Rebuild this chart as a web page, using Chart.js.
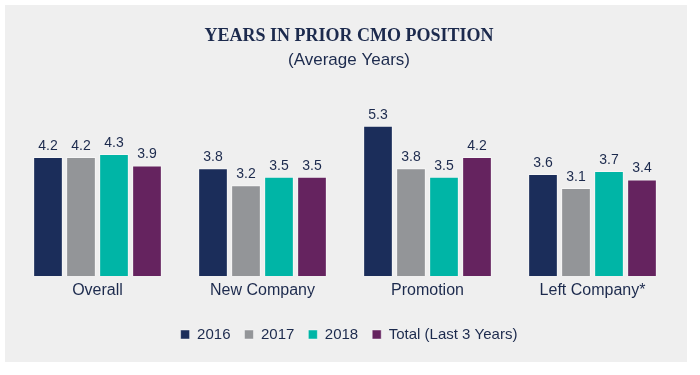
<!DOCTYPE html>
<html>
<head>
<meta charset="utf-8">
<script src="https://cdn.jsdelivr.net/npm/chart.js@4"></script>
<style>
  html, body { margin: 0; padding: 0; background: #ffffff; }
  #wrap { width: 700px; height: 375px; position: relative; }
</style>
</head>
<body>
<div id="wrap"><canvas id="c" width="700" height="375"></canvas></div>
<script>
const categories = ['Overall', 'New Company', 'Promotion', 'Left Company*'];
const seriesNames = ['2016', '2017', '2018', 'Total (Last 3 Years)'];
const values2016 = [4.2, 3.8, 5.3, 3.6];
const values2017 = [4.2, 3.2, 3.8, 3.1];
const values2018 = [4.3, 3.5, 3.5, 3.7];
const valuesTotal = [3.9, 3.5, 4.2, 3.4];
const seriesColors = ['#1b2d5a', '#939598', '#00b5a6', '#65235f'];

const TEXT = '#1c2a4d';

const panelPlugin = {
  id: 'panel',
  beforeDraw(chart) {
    const ctx = chart.ctx;
    ctx.save();
    ctx.fillStyle = '#efefef';
    ctx.fillRect(5, 5, 682, 357);
    ctx.restore();
  }
};

const labelPlugin = {
  id: 'valueLabels',
  afterDatasetsDraw(chart) {
    const ctx = chart.ctx;
    ctx.save();
    ctx.font = '14px "Liberation Sans", Arial, sans-serif';
    ctx.fillStyle = TEXT;
    ctx.textAlign = 'center';
    ctx.textBaseline = 'bottom';
    chart.data.datasets.forEach((ds, i) => {
      const meta = chart.getDatasetMeta(i);
      meta.data.forEach((bar, j) => {
        ctx.fillText(ds.data[j].toFixed(1), bar.x, bar.y - 4);
      });
    });
    ctx.restore();
  }
};

const allValues = [values2016, values2017, values2018, valuesTotal];

new Chart(document.getElementById('c'), {
  type: 'bar',
  data: {
    labels: categories,
    datasets: allValues.map((vals, i) => ({
      label: seriesNames[i],
      data: vals,
      backgroundColor: seriesColors[i],
      borderColor: 'rgba(255,255,255,0.45)',
      borderWidth: 1,
      categoryPercentage: 0.8,
      barPercentage: 0.9
    }))
  },
  options: {
    responsive: false,
    animation: false,
    devicePixelRatio: 1,
    layout: { padding: { top: 0, left: 15, right: 17, bottom: 23 } },
    scales: {
      x: {
        grid: { display: false, drawTicks: false },
        border: { display: false },
        ticks: { padding: 5, color: TEXT, font: { family: '"Liberation Sans", Arial, sans-serif', size: 16 } },
        afterFit(scale) { scale.height = 37; }
      },
      y: {
        position: 'right',
        min: 0,
        max: 6.2,
        grid: { display: false, drawTicks: false },
        border: { display: false },
        ticks: { display: false },
        afterFit(scale) { scale.width = 8; }
      }
    },
    plugins: {
      title: {
        display: true,
        text: 'YEARS IN PRIOR CMO POSITION',
        color: TEXT,
        font: { family: '"Liberation Serif", "Times New Roman", serif', size: 18, weight: 'bold' },
        padding: { top: 26, bottom: 3 }
      },
      subtitle: {
        display: true,
        text: '(Average Years)',
        color: TEXT,
        font: { family: '"Liberation Sans", Arial, sans-serif', size: 17 },
        padding: { top: 0, bottom: 29.2 }
      },
      legend: {
        position: 'bottom',
        labels: {
          color: TEXT,
          boxWidth: 9,
          boxHeight: 9,
          padding: 14,
          font: { family: '"Liberation Sans", Arial, sans-serif', size: 15 }
        }
      },
      tooltip: { enabled: false }
    }
  },
  plugins: [panelPlugin, labelPlugin]
});
</script>
</body>
</html>
